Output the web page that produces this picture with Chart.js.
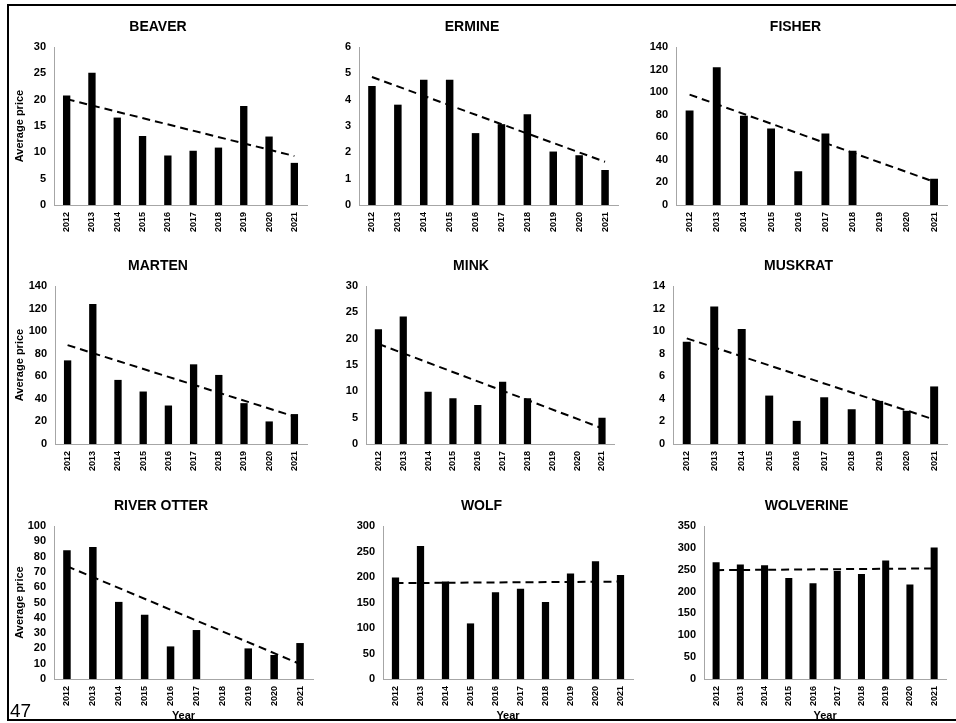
<!DOCTYPE html>
<html>
<head>
<meta charset="utf-8">
<title>Average price by species, 2012-2021</title>
<script src="https://cdn.jsdelivr.net/npm/chart.js@4.4.1/dist/chart.umd.min.js"></script>
<style>
  html, body { margin: 0; padding: 0; background: #fff; overflow: hidden; }
  #page { position: relative; width: 956px; height: 723px; }
  #frame {
    position: absolute; left: 7px; top: 4px; width: 980px; height: 713px;
    border: 2px solid #000; border-right: none;
  }
  #page canvas { position: absolute; }
  #pageNo {
    position: absolute; left: 10px; top: 700px; z-index: 2;
    font: 19px "Liberation Sans", Arial, sans-serif; color: #000;
  }
</style>
</head>
<body>
<div id="page">
  <div id="frame"></div>
  <div id="pageNo">47</div>
</div>

<script>
/* ---------- Data ---------- */
const years = ["2012", "2013", "2014", "2015", "2016", "2017", "2018", "2019", "2020", "2021"];

const beaver     = [20.8, 25.1, 16.6, 13.1, 9.4, 10.3, 10.9, 18.8, 13.0, 8.0];
const ermine     = [4.52, 3.81, 4.76, 4.76, 2.73, 3.07, 3.45, 2.03, 1.89, 1.33];
const fisher     = [83.7, 122, 79, 67.8, 30, 63.4, 48, null, null, 23.3];
const marten     = [74.1, 124, 56.8, 46.5, 34.1, 70.6, 61.2, 36.2, 20, 26.5];
const mink       = [21.8, 24.2, 9.9, 8.7, 7.4, 11.8, 8.7, null, null, 5.0];
const muskrat    = [9.07, 12.18, 10.18, 4.29, 2.05, 4.14, 3.08, 3.82, 2.94, 5.1];
const riverOtter = [84.1, 86.3, 50.4, 42, 21.3, 32, null, 20, 15.7, 23.5];
const wolf       = [199, 261, 191, 109, 170, 177, 151, 207, 231, 204];
const wolverine  = [267, 262, 260, 231, 219, 247, 240, 271, 216, 301];

// linear trendline value at 2012 and at 2021
const beaverTrend     = [20.1, 9.3];
const ermineTrend     = [4.86, 1.64];
const fisherTrend     = [97.8, 20.6];
const martenTrend     = [87.6, 24.4];
const minkTrend       = [19.0, 3.0];
const muskratTrend    = [9.36, 2.17];
const riverOtterTrend = [73.7, 9.8];
const wolfTrend       = [188, 191];
const wolverineTrend  = [249, 253];

// y axis range and tick step per panel
const yMax  = [30, 6, 140, 140, 30, 14, 100, 300, 350];
const yStep = [5, 1, 20, 20, 5, 2, 10, 50, 50];

const panels = [
  { title: "BEAVER",      values: beaver,     trend: beaverTrend },
  { title: "ERMINE",      values: ermine,     trend: ermineTrend },
  { title: "FISHER",      values: fisher,     trend: fisherTrend },
  { title: "MARTEN",      values: marten,     trend: martenTrend },
  { title: "MINK",        values: mink,       trend: minkTrend },
  { title: "MUSKRAT",     values: muskrat,    trend: muskratTrend },
  { title: "RIVER OTTER", values: riverOtter, trend: riverOtterTrend },
  { title: "WOLF",        values: wolf,       trend: wolfTrend },
  { title: "WOLVERINE",   values: wolverine,  trend: wolverineTrend }
];

/* ---------- Layout (canvas box and plot edges, page px) ---------- */
const layout = [
  { left: 9,   right: 317, top: 1,   height: 240, plotLeft: 54,  plotRight: 307, xAxisH: 36 },
  { left: 326, right: 626, top: 1,   height: 240, plotLeft: 359, plotRight: 618, xAxisH: 36 },
  { left: 642, right: 952, top: 1,   height: 240, plotLeft: 676, plotRight: 949, xAxisH: 36 },
  { left: 9,   right: 317, top: 240, height: 240, plotLeft: 55,  plotRight: 307, xAxisH: 36 },
  { left: 326, right: 620, top: 240, height: 240, plotLeft: 366, plotRight: 616, xAxisH: 36 },
  { left: 646, right: 952, top: 240, height: 240, plotLeft: 673, plotRight: 951, xAxisH: 36 },
  { left: 9,   right: 325, top: 480, height: 243, plotLeft: 54,  plotRight: 313, xAxisH: 44 },
  { left: 330, right: 644, top: 480, height: 243, plotLeft: 383, plotRight: 633, xAxisH: 44 },
  { left: 662, right: 952, top: 480, height: 243, plotLeft: 704, plotRight: 951, xAxisH: 44 }
];

const FONT = '"Liberation Sans", Arial, sans-serif';
const axisColor = "#a6a6a6";

document.addEventListener("DOMContentLoaded", function () {
  const page = document.getElementById("page");

  panels.forEach((panel, i) => {
    const box = layout[i];
    const isLeftCol = i % 3 === 0;
    const isBottomRow = i >= 6;

    const canvas = document.createElement("canvas");
    canvas.width = box.right - box.left;
    canvas.height = box.height;
    canvas.style.left = box.left + "px";
    canvas.style.top = box.top + "px";
    canvas.style.width = canvas.width + "px";
    canvas.style.height = canvas.height + "px";
    page.appendChild(canvas);

    const last = years.length - 1;
    const trendData = years.map((_, k) =>
      k === 0 ? panel.trend[0] : k === last ? panel.trend[1] : null
    );

    new Chart(canvas, {
      type: "bar",
      data: {
        labels: years,
        datasets: [
          {
            type: "line",
            label: "Trend",
            data: trendData,
            spanGaps: true,
            borderColor: "#000",
            borderWidth: 2,
            borderDash: [8, 5],
            pointRadius: 0,
            fill: false,
            order: 0
          },
          {
            label: panel.title,
            data: panel.values,
            backgroundColor: "#000",
            borderWidth: 0,
            barPercentage: 0.29,
            categoryPercentage: 1.0,
            order: 1
          }
        ]
      },
      options: {
        responsive: false,
        animation: false,
        devicePixelRatio: 1,
        layout: {
          padding: { left: 0, right: box.right - box.plotRight, top: 0, bottom: 0 }
        },
        plugins: {
          legend: { display: false },
          tooltip: { enabled: false },
          title: {
            display: true,
            text: panel.title,
            color: "#000",
            font: { family: FONT, size: 14, weight: "bold" },
            padding: { top: 18, bottom: 11.2 }
          }
        },
        scales: {
          x: {
            grid: { display: false, drawTicks: false },
            border: { display: true, color: axisColor, width: 1 },
            ticks: {
              color: "#000",
              font: { family: FONT, size: 9, weight: "bold" },
              minRotation: 90,
              maxRotation: 90,
              autoSkip: false,
              padding: 7
            },
            title: {
              display: isBottomRow,
              text: "Year",
              color: "#000",
              font: { family: FONT, size: 11, weight: "bold" },
              padding: { top: 0, bottom: 0 }
            },
            afterFit: (scale) => { scale.height = box.xAxisH; }
          },
          y: {
            min: 0,
            max: yMax[i],
            grid: { display: false, drawTicks: false },
            border: { display: true, color: axisColor, width: 1 },
            ticks: {
              stepSize: yStep[i],
              autoSkip: false,
              color: "#000",
              font: { family: FONT, size: 11, weight: "bold" },
              padding: 8
            },
            title: {
              display: isLeftCol,
              text: "Average price",
              color: "#000",
              font: { family: FONT, size: 11, weight: "bold" },
              padding: { top: 4, bottom: 0 }
            },
            afterFit: (scale) => { scale.width = box.plotLeft - box.left; }
          }
        }
      }
    });
  });
});
</script>
</body>
</html>
